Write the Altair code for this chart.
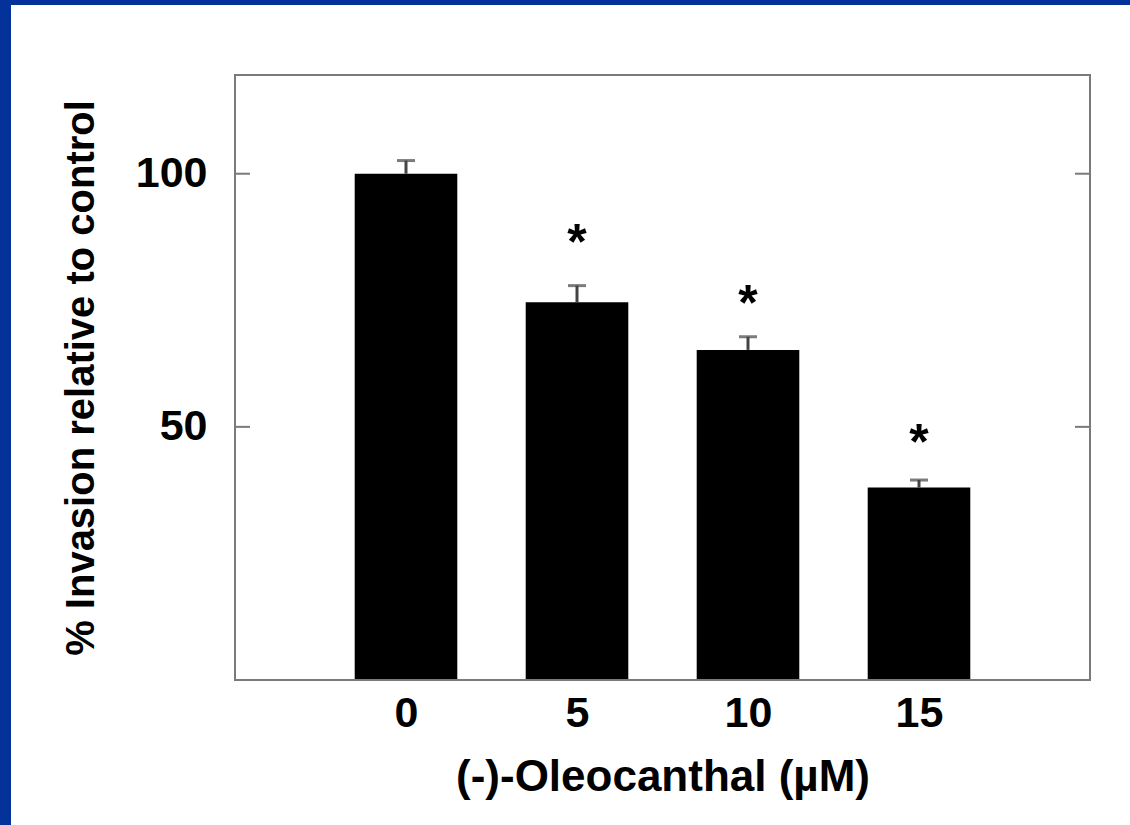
import altair as alt
import pandas as pd

# Oleocanthal concentration (µM), mean invasion (% of control) and upper error
conc = [0, 5, 10, 15]
invasion = [100.0, 74.6, 65.2, 38.0]
err_top = [102.6, 77.9, 67.8, 39.5]
star_y = [None, 87.9, 75.8, 48.4]
y_ticks = [50, 100]

FONT = "Liberation Sans"
FRAME = "#7a7a7a"
BAR_HALF = 1.5

df = pd.DataFrame({"conc": conc, "inv": invasion, "top": err_top})
df["lo"] = df["conc"] - BAR_HALF
df["hi"] = df["conc"] + BAR_HALF
stars = pd.DataFrame({"conc": conc, "y": star_y}).dropna()
ticks = pd.DataFrame({"v": y_ticks})

xs = alt.Scale(domain=[-5, 20], nice=False, zero=False)
ys = alt.Scale(domain=[0, 119.5], nice=False)

W, H = 855, 605
PAD_L, PAD_T, PAD_R, PAD_B = 235, 75, 40, 145

# white card over the blue page
card = alt.Chart(pd.DataFrame({"a": [0]})).mark_rect(color="white").encode(
    x=alt.value(-PAD_L + 11), x2=alt.value(W + PAD_R),
    y=alt.value(-PAD_T + 5), y2=alt.value(H + PAD_B),
)

bars = alt.Chart(df).mark_rect(color="black").encode(
    x=alt.X("lo:Q", scale=xs,
            axis=alt.Axis(values=conc, title="(-)-Oleocanthal (µM)", domain=False, ticks=False,
                          grid=False, labelFont=FONT, labelFontSize=43, labelFontWeight="bold",
                          labelColor="black", labelPadding=12, titleFont=FONT, titleFontSize=44,
                          titleFontWeight="bold", titleColor="black", titlePadding=20, zindex=1)),
    x2="hi:Q",
    y=alt.Y("inv:Q", scale=ys,
            axis=alt.Axis(values=y_ticks, title="% Invasion relative to control", domain=False,
                          ticks=False, grid=False, labelFont=FONT, labelFontSize=43,
                          labelFontWeight="bold", labelColor="black", labelPadding=28,
                          titleFont=FONT, titleFontSize=40, titleFontWeight="bold",
                          titleColor="black", titlePadding=34, zindex=1)),
    y2=alt.datum(0),
)

err = alt.Chart(df).mark_rule(color="#444444", strokeWidth=3).encode(
    x=alt.X("conc:Q", scale=xs), y=alt.Y("inv:Q", scale=ys), y2="top:Q"
)
caps = alt.Chart(df).mark_tick(color="#444444", orient="horizontal", size=18, thickness=3).encode(
    x=alt.X("conc:Q", scale=xs), y=alt.Y("top:Q", scale=ys)
)

star_marks = alt.Chart(stars).mark_text(
    text="*", font=FONT, fontSize=50, fontWeight="bold", color="black",
    baseline="alphabetic", dy=24
).encode(x=alt.X("conc:Q", scale=xs), y=alt.Y("y:Q", scale=ys))

frame = alt.Chart(pd.DataFrame({"a": [0]})).mark_rect(
    fill="transparent", stroke=FRAME, strokeWidth=2
).encode(x=alt.value(0), x2=alt.value(W), y=alt.value(0), y2=alt.value(H))

left_ticks = alt.Chart(ticks).mark_rule(color=FRAME, strokeWidth=2).encode(
    x=alt.value(0), x2=alt.value(15), y=alt.Y("v:Q", scale=ys)
)
right_ticks = alt.Chart(ticks).mark_rule(color=FRAME, strokeWidth=2).encode(
    x=alt.value(W - 15), x2=alt.value(W), y=alt.Y("v:Q", scale=ys)
)

chart = alt.layer(card, bars, err, caps, star_marks, frame, left_ticks, right_ticks).properties(
    width=W, height=H,
    autosize=alt.AutoSizeParams(type="none"),
    padding={"left": PAD_L, "top": PAD_T, "right": PAD_R, "bottom": PAD_B},
    background="#03339a",
).configure_view(stroke=None, fill=None)

chart.save("out.html", embed_options={"renderer": "svg", "actions": False})
